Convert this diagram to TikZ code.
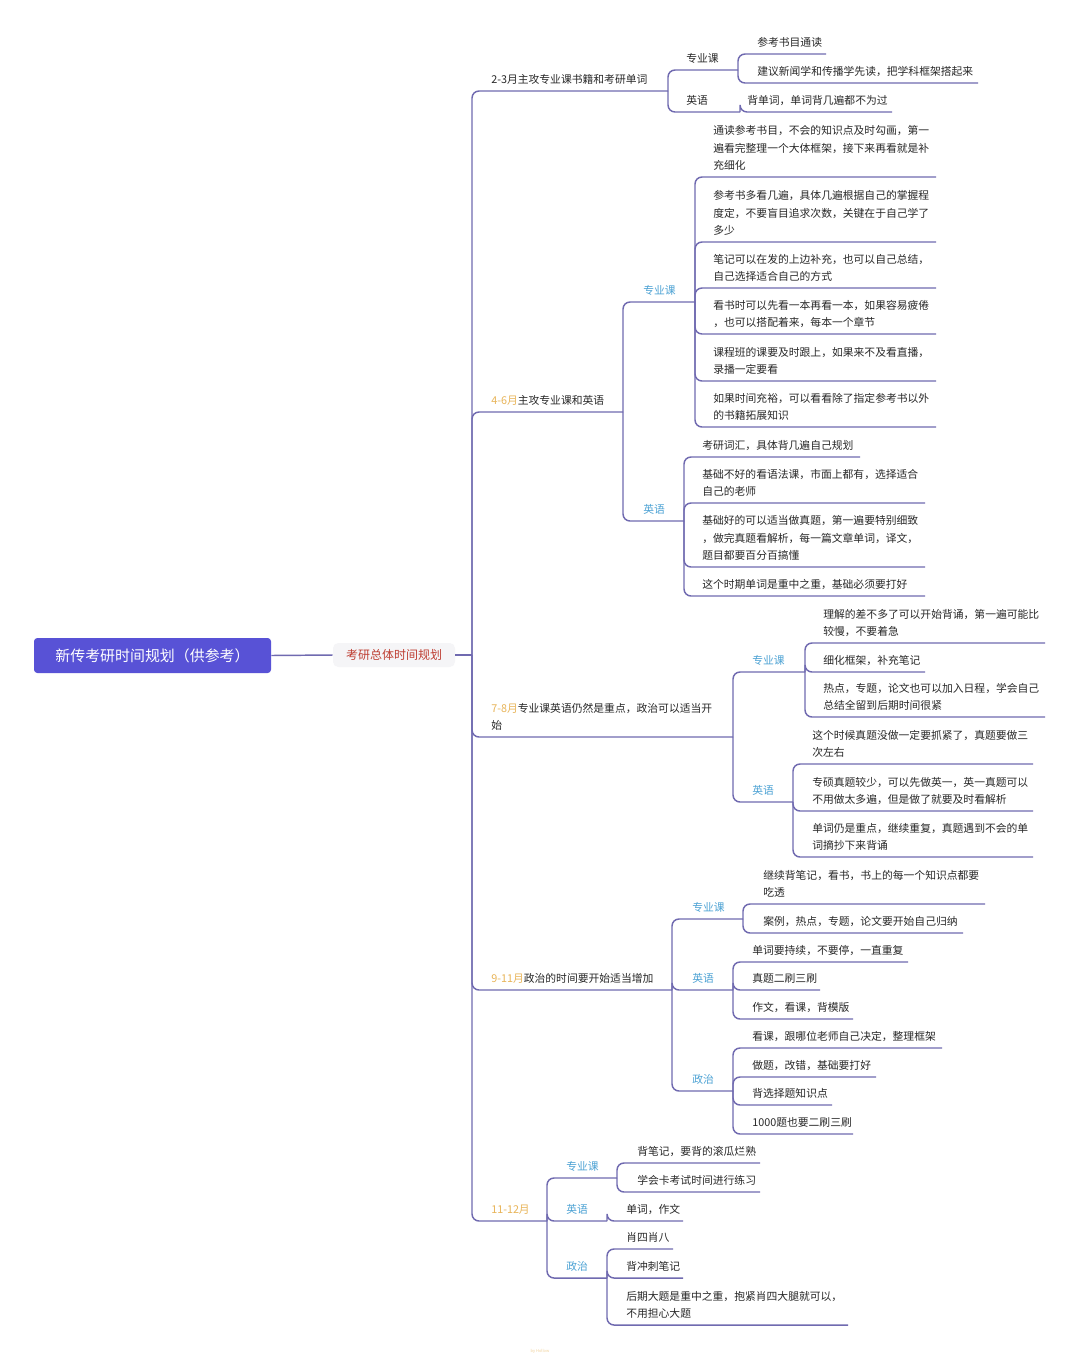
\documentclass[tikz,border=0pt]{standalone}
\usepackage{fontspec}
\setmainfont{Noto Sans CJK SC}
\definecolor{lncol}{RGB}{112,106,176}
\definecolor{rootcol}{RGB}{88,82,214}
\definecolor{midfill}{RGB}{245,245,247}
\definecolor{midtxt}{RGB}{190,62,50}
\definecolor{bluelab}{RGB}{76,162,212}
\definecolor{gold}{RGB}{232,180,88}
\definecolor{txt}{RGB}{40,40,40}
\tikzset{
  ln/.style={draw=lncol, line width=1.1pt, rounded corners=5.25pt},
  leaf/.style={font=\fontsize{8.1}{13.1}\selectfont, text=txt, inner sep=0pt, align=left, anchor=base west},
  blab/.style={leaf, text=bluelab},
  rootbox/.style={fill=rootcol, rounded corners=2.5pt, text=white, font=\fontsize{11.2}{13}\selectfont,
    minimum width=177.75pt, minimum height=26.25pt, inner sep=0pt},
  midbox/.style={fill=midfill, rounded corners=4pt, text=midtxt, font=\fontsize{9}{11}\selectfont,
    minimum width=91.5pt, minimum height=18pt, inner sep=0pt}
}
% #1 name, #2 junction, #3 text x, #4 underline y, #5 end x, #6 style, #7 text
\newcommand\Lf[7]{%
  \node[#6] (#1) at (#3,#4-7.2) {#7};
  \coordinate (#1e) at (#5,#4);
  \draw[ln] (#2) |- (#1e);
}
\begin{document}
\begin{tikzpicture}[x=0.75pt,y=-0.75pt]
\fill[white] (0,0) rectangle (1080,1360);
\useasboundingbox (0,0) rectangle (1080,1360);

\node[rootbox] (root) at (152.5,655.5) {新传考研时间规划（供参考）};
\node[midbox] (mid) at (394,655) {考研总体时间规划};
\coordinate (T) at (472,655);
\draw[ln] (root.east) -- (mid.west);
\draw[ln] (mid.east) -- (T);

% ---- level 1
\Lf{b1}{T}{491}{91}{668}{leaf}{2-3月主攻专业课书籍和考研单词}
\Lf{b2}{T}{491}{412}{623}{leaf}{\textcolor{gold}{4-6月}主攻专业课和英语}
\Lf{b3}{T}{491}{737}{733}{leaf}{\textcolor{gold}{7-8月}专业课英语仍然是重点，政治可以适当开\\始}
\Lf{b4}{T}{491}{990}{672}{leaf}{\textcolor{gold}{9-11月}政治的时间要开始适当增加}
\Lf{b5}{T}{491}{1221}{547}{leaf}{\textcolor{gold}{11-12月}}

% ---- 2-3月
\Lf{b1z}{b1e}{686}{70}{738}{leaf}{专业课}
\Lf{b1y}{b1e}{686}{112}{740}{leaf}{英语}
\Lf{b1za}{b1ze}{757}{54}{826}{leaf}{参考书目通读}
\Lf{b1zb}{b1ze}{757}{83}{978}{leaf}{建议新闻学和传播学先读，把学科框架搭起来}
\Lf{b1ya}{b1ye}{747}{112}{892}{leaf}{背单词，单词背几遍都不为过}

% ---- 4-6月
\Lf{b2z}{b2e}{643}{302}{695}{blab}{专业课}
\Lf{b2y}{b2e}{643}{521}{684}{blab}{英语}
\Lf{b2za}{b2ze}{713}{177}{936}{leaf}{通读参考书目，不会的知识点及时勾画，第一\\遍看完整理一个大体框架，接下来再看就是补\\充细化}
\Lf{b2zb}{b2ze}{713}{242}{936}{leaf}{参考书多看几遍，具体几遍根据自己的掌握程\\度定，不要盲目追求次数，关键在于自己学了\\多少}
\Lf{b2zc}{b2ze}{713}{288}{936}{leaf}{笔记可以在发的上边补充，也可以自己总结，\\自己选择适合自己的方式}
\Lf{b2zd}{b2ze}{713}{334}{936}{leaf}{看书时可以先看一本再看一本，如果容易疲倦\\，也可以搭配着来，每本一个章节}
\Lf{b2zf}{b2ze}{713}{381}{936}{leaf}{课程班的课要及时跟上，如果来不及看直播，\\录播一定要看}
\Lf{b2zg}{b2ze}{713}{427}{936}{leaf}{如果时间充裕，可以看看除了指定参考书以外\\的书籍拓展知识}
\Lf{b2ya}{b2ye}{702}{457}{860}{leaf}{考研词汇，具体背几遍自己规划}
\Lf{b2yb}{b2ye}{702}{503}{925}{leaf}{基础不好的看语法课，市面上都有，选择适合\\自己的老师}
\Lf{b2yc}{b2ye}{702}{567}{925}{leaf}{基础好的可以适当做真题，第一遍要特别细致\\，做完真题看解析，每一篇文章单词，译文，\\题目都要百分百搞懂}
\Lf{b2yd}{b2ye}{702}{596}{925}{leaf}{这个时期单词是重中之重，基础必须要打好}

% ---- 7-8月
\Lf{b3z}{b3e}{752}{672}{805}{blab}{专业课}
\Lf{b3y}{b3e}{752}{802}{793}{blab}{英语}
\Lf{b3za}{b3ze}{823}{643}{1045}{leaf}{理解的差不多了可以开始背诵，第一遍可能比\\较慢，不要着急}
\Lf{b3zb}{b3ze}{823}{672}{925}{leaf}{细化框架，补充笔记}
\Lf{b3zc}{b3ze}{823}{717}{1045}{leaf}{热点，专题，论文也可以加入日程，学会自己\\总结全留到后期时间很紧}
\Lf{b3ya}{b3ye}{812}{764}{1033}{leaf}{这个时候真题没做一定要抓紧了，真题要做三\\次左右}
\Lf{b3yb}{b3ye}{812}{811}{1033}{leaf}{专硕真题较少，可以先做英一，英一真题可以\\不用做太多遍，但是做了就要及时看解析}
\Lf{b3yc}{b3ye}{812}{857}{1033}{leaf}{单词仍是重点，继续重复，真题遇到不会的单\\词摘抄下来背诵}

% ---- 9-11月
\Lf{b4z}{b4e}{692}{919}{743}{blab}{专业课}
\Lf{b4y}{b4e}{692}{990}{733}{blab}{英语}
\Lf{b4p}{b4e}{692}{1091}{733}{blab}{政治}
\Lf{b4za}{b4ze}{763}{904}{985}{leaf}{继续背笔记，看书，书上的每一个知识点都要\\吃透}
\Lf{b4zb}{b4ze}{763}{933}{963}{leaf}{案例，热点，专题，论文要开始自己归纳}
\Lf{b4ya}{b4ye}{752}{962}{908}{leaf}{单词要持续，不要停，一直重复}
\Lf{b4yb}{b4ye}{752}{990}{820}{leaf}{真题二刷三刷}
\Lf{b4yc}{b4ye}{752}{1019}{853}{leaf}{作文，看课，背模版}
\Lf{b4pa}{b4pe}{752}{1048}{942}{leaf}{看课，跟哪位老师自己决定，整理框架}
\Lf{b4pb}{b4pe}{752}{1077}{876}{leaf}{做题，改错，基础要打好}
\Lf{b4pc}{b4pe}{752}{1105}{832}{leaf}{背选择题知识点}
\Lf{b4pd}{b4pe}{752}{1134}{853}{leaf}{1000题也要二刷三刷}

% ---- 11-12月
\Lf{b5z}{b5e}{566}{1178}{617}{blab}{专业课}
\Lf{b5y}{b5e}{566}{1221}{607}{blab}{英语}
\Lf{b5p}{b5e}{566}{1278}{607}{blab}{政治}
\Lf{b5za}{b5ze}{637}{1163}{760}{leaf}{背笔记，要背的滚瓜烂熟}
\Lf{b5zb}{b5ze}{637}{1192}{760}{leaf}{学会卡考试时间进行练习}
\Lf{b5ya}{b5ye}{626}{1221}{683}{leaf}{单词，作文}
\Lf{b5pa}{b5pe}{626}{1249}{673}{leaf}{肖四肖八}
\Lf{b5pb}{b5pe}{626}{1278}{683}{leaf}{背冲刺笔记}
\Lf{b5pc}{b5pe}{626}{1325}{848}{leaf}{后期大题是重中之重，抱紧肖四大腿就可以，\\不用担心大题}

\node[font=\fontsize{3}{4}\selectfont, text=gold!60, inner sep=0pt] (wm) at (540,1351) {by Hollow};
\end{tikzpicture}
\end{document}
